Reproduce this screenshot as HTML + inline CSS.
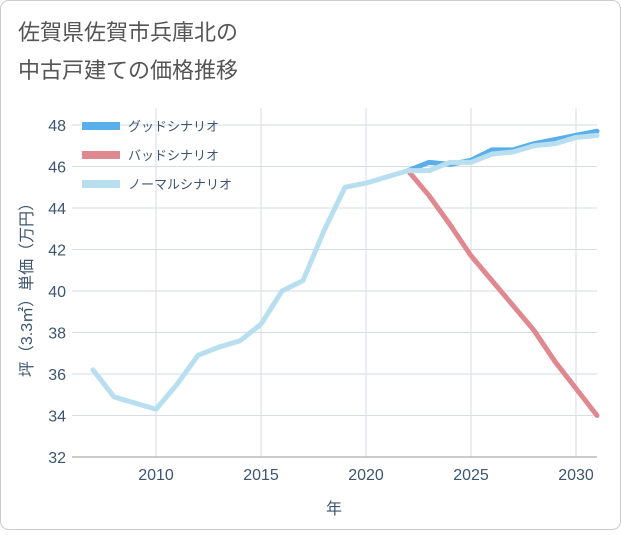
<!DOCTYPE html>
<html><head><meta charset="utf-8">
<style>
body{margin:0;background:#fff;font-family:"Liberation Sans","Noto Sans CJK JP",sans-serif;}
#wrap{position:relative;width:621px;height:530px;}
</style></head>
<body>
<div id="wrap">
<svg id="chart" width="621" height="530">
<rect x="0.5" y="0.5" width="620" height="529" rx="8" fill="#fff" stroke="#ccc"/>
<text x="18" y="40" font-size="22" fill="#555">佐賀県佐賀市兵庫北の</text>
<text x="18" y="78" font-size="22" fill="#555">中古戸建ての価格推移</text>
<g id="grid"></g><g id="series"></g>
<text transform="translate(32,286) rotate(-90)" text-anchor="middle" font-size="16" fill="#3d5570">坪（3.3㎡）単価（万円）</text>
<text x="334" y="514" text-anchor="middle" font-size="16" fill="#3d5570">年</text>
</svg></div>
<script>
const years=[2007,2008,2009,2010,2011,2012,2013,2014,2015,2016,2017,2018,2019,2020,2021,2022,2023,2024,2025,2026,2027,2028,2029,2030,2031];
const normal=[36.2,34.9,34.6,34.3,35.5,36.9,37.3,37.6,38.4,40.0,40.5,42.9,45.0,45.2,45.5,45.8,45.8,46.2,46.2,46.6,46.7,47.0,47.1,47.4,47.5];
const goodYears=[2022,2023,2024,2025,2026,2027,2028,2029,2030,2031];
const good=[45.8,46.2,46.1,46.3,46.8,46.8,47.1,47.3,47.5,47.7];
const bad=[45.8,44.6,43.2,41.7,40.5,39.3,38.1,36.6,35.3,34.0];
const yTicks=[32,34,36,38,40,42,44,46,48];
const xTicks=[2010,2015,2020,2025,2030];
const legendLabels=["グッドシナリオ","バッドシナリオ","ノーマルシナリオ"];
const L=72,R=597,T=108,B=457;
const x=v=>156+(v-2010)*21;
const y=v=>457-(v-32)*20.75;
const NS="http://www.w3.org/2000/svg";
function mk(tag,attrs,parent,text){const e=document.createElementNS(NS,tag);for(const k in attrs)e.setAttribute(k,attrs[k]);if(text!==undefined)e.textContent=text;parent.appendChild(e);return e;}
const grid=document.getElementById('grid'),ser=document.getElementById('series');
yTicks.forEach(t=>{
 const l=mk('line',{x1:L,x2:R,y1:y(t),y2:y(t),stroke:'#d5dde5'},grid);
 
 
 const tx=mk('text',{x:66,y:y(t)+6,'text-anchor':'end','font-size':16,fill:'#3d5570'},grid,t);
 
 
});
xTicks.forEach(t=>{
 const l=mk('line',{x1:x(t),x2:x(t),y1:T,y2:B,stroke:'#d5dde5'},grid);
 
 
 const tx=mk('text',{x:x(t),y:480,'text-anchor':'middle','font-size':16,fill:'#3d5570'},grid,t);
 
 
});
const ax=mk('line',{x1:L,x2:R,y1:B,y2:B,stroke:'#999'},grid);


function line(xs,vs,color,name){
 const p=mk('polyline',{points:xs.map((v,i)=>x(v)+','+y(vs[i])).join(' '),fill:'none',stroke:color,'stroke-width':5,'stroke-linejoin':'round','stroke-linecap':'round'},ser);
 
 
}
line(goodYears,bad,'#e0888f','bad-scenario-line');
line(goodYears,good,'#5aaeea','good-scenario-line');
line(years,normal,'#b8dff0','normal-scenario-line');
const colors=['#5aaeea','#e0888f','#b8dff0'];
legendLabels.forEach((s,i)=>{
 const yy=126+i*29;
 const r=mk('rect',{x:82,y:yy-4,width:38,height:8,fill:colors[i]},ser);
 
 
 const t=mk('text',{x:128,y:yy+5,'font-size':13,fill:'#3d5570'},ser,s);
 
 
});
</script>
</body></html>
